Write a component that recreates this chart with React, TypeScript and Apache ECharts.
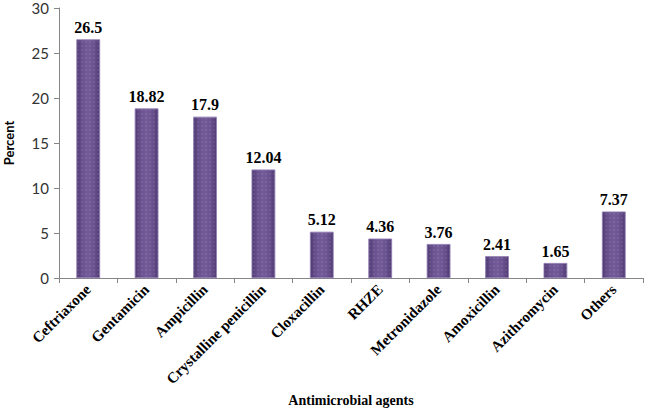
import React, { useEffect, useRef } from "react";
import * as echarts from "echarts";

const categories = [
  "Ceftriaxone",
  "Gentamicin",
  "Ampicillin",
  "Crystalline penicillin",
  "Cloxacillin",
  "RHZE",
  "Metronidazole",
  "Amoxicillin",
  "Azithromycin",
  "Others",
];
const values = [26.5, 18.82, 17.9, 12.04, 5.12, 4.36, 3.76, 2.41, 1.65, 7.37];
const valueLabels = ["26.5", "18.82", "17.9", "12.04", "5.12", "4.36", "3.76", "2.41", "1.65", "7.37"];

export default function App() {
  const ref = useRef<HTMLDivElement>(null);
  useEffect(() => {
    if (!ref.current) return;
    const chart = echarts.init(ref.current, undefined, { renderer: "svg" });
    const serif = "'Liberation Serif', 'DejaVu Serif', serif";
    const sans = "Lato, 'Open Sans', 'Liberation Sans', sans-serif";
    chart.setOption({
      animation: false,
      backgroundColor: "#ffffff",
      grid: {
        left: 59,
        right: 4,
        top: 8,
        bottom: 133,
        containLabel: false,
        outerBoundsMode: "none",
      },
      xAxis: {
        type: "category",
        data: categories,
        name: "Antimicrobial agents",
        nameLocation: "middle",
        nameGap: 115,
        nameTextStyle: { fontFamily: serif, fontWeight: "bold", fontSize: 14, color: "#000" },
        axisLine: { lineStyle: { color: "#868686", width: 1 } },
        axisTick: { show: true, alignWithLabel: false, length: 5, lineStyle: { color: "#868686" } },
        axisLabel: {
          rotate: 45,
          interval: 0,
          margin: 9,
          fontFamily: serif,
          fontWeight: "bold",
          fontSize: 15,
          color: "#000",
        },
      },
      yAxis: {
        type: "value",
        min: 0,
        max: 30,
        interval: 5,
        name: "Percent",
        nameLocation: "middle",
        nameGap: 44,
        nameTextStyle: { fontFamily: sans, fontWeight: "bold", fontSize: 13, color: "#000" },
        axisLine: { show: true, lineStyle: { color: "#868686", width: 1 } },
        axisTick: { show: true, length: 5, lineStyle: { color: "#868686" } },
        splitLine: { show: false },
        axisLabel: { fontFamily: sans, fontSize: 15, color: "#333", margin: 10 },
      },
      series: [
        {
          type: "bar",
          data: values,
          barWidth: "40%",
          itemStyle: {
            color: new echarts.graphic.LinearGradient(0, 0, 1, 0, [
              { offset: 0, color: "#4f3a72" },
              { offset: 0.25, color: "#6a5290" },
              { offset: 0.5, color: "#735b99" },
              { offset: 0.75, color: "#6a5290" },
              { offset: 1, color: "#4f3a72" },
            ]),
            borderColor: "#8e7bb0",
            borderWidth: 0.5,
            decal: {
              symbol: "circle",
              symbolSize: 0.35,
              color: "rgba(255,255,255,0.18)",
              dashArrayX: [4, 0],
              dashArrayY: [4, 0],
              rotation: 0,
            },
          },
          label: {
            show: true,
            position: "top",
            distance: 4,
            formatter: (p: any) => valueLabels[p.dataIndex],
            fontFamily: serif,
            fontWeight: "bold",
            fontSize: 16,
            color: "#000",
          },
        },
      ],
    });
    return () => chart.dispose();
  }, []);
  return (
    <div
      ref={ref}
      style={{ position: "fixed", left: 0, top: 0, width: 647, height: 411 }}
    />
  );
}
